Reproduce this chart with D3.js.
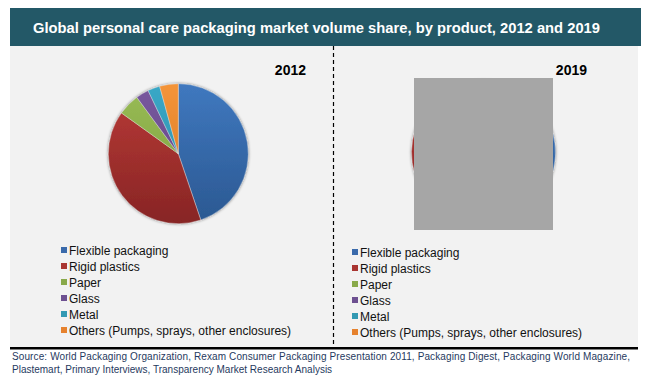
<!DOCTYPE html>
<html>
<head>
<meta charset="utf-8">
<script src="https://cdn.jsdelivr.net/npm/d3@7"></script>
<style>
  body { margin: 0; background: #fff; }
  text { font-family: "Liberation Sans", Arial, sans-serif; }
</style>
</head>
<body>
<div id="viz"></div>
<script>
// data
var categories = ['Flexible packaging', 'Rigid plastics', 'Paper', 'Glass', 'Metal',
    'Others (Pumps, sprays, other enclosures)'];
var share2012 = [44.8, 40.1, 5.0, 3.0, 2.8, 4.3];
var share2019 = [46.0, 39.0, 5.0, 3.0, 3.0, 4.0];
var years = ['2012', '2019'];
var titleText = 'Global personal care packaging market volume share, by product, 2012 and 2019';
var sourceLines = [
    'Source: World Packaging Organization, Rexam Consumer Packaging Presentation 2011, Packaging Digest, Packaging World Magazine,',
    'Plastemart, Primary Interviews, Transparency Market Research Analysis'
];

var width = 649;
var height = 389;

var topColors = ['#4079c0', '#bb3b37', '#9abd56', '#7a5aa0', '#3aa9c8', '#f5953a'];
var bottomColors = ['#2a5790', '#862424', '#789a3c', '#5a3f7e', '#2a87a2', '#d0741f'];
var legendColors = ['#3a6aab', '#a93532', '#89a94a', '#6d5091', '#3399b3', '#e6822e'];

var svg = d3.select('#viz').append('svg')
    .attr('width', width)
    .attr('height', height);

var defs = svg.append('defs');

topColors.forEach(function (c, i) {
    var g = defs.append('linearGradient')
        .attr('id', 'grad' + i)
        .attr('gradientUnits', 'userSpaceOnUse')
        .attr('x1', 0).attr('y1', -73)
        .attr('x2', 0).attr('y2', 73);
    g.append('stop').attr('offset', '0%').attr('stop-color', c);
    g.append('stop').attr('offset', '100%').attr('stop-color', bottomColors[i]);
});

var blur = defs.append('filter').attr('id', 'shadow')
    .attr('x', '-20%').attr('y', '-20%').attr('width', '140%').attr('height', '140%');
blur.append('feGaussianBlur').attr('in', 'SourceAlpha').attr('stdDeviation', 1.5).attr('result', 'b');
blur.append('feComponentTransfer').attr('in', 'b').attr('result', 's')
    .append('feFuncA').attr('type', 'linear').attr('slope', 0.5);
var merge = blur.append('feMerge');
merge.append('feMergeNode').attr('in', 's');
merge.append('feMergeNode').attr('in', 'SourceGraphic');

// panel background
svg.append('rect')
    .attr('x', 10).attr('y', 46)
    .attr('width', 628).attr('height', 302)
    .attr('fill', '#f2f2f2');

// header
svg.append('rect')
    .attr('x', 10).attr('y', 8)
    .attr('width', 631).attr('height', 38)
    .attr('fill', '#235867');

svg.append('text')
    .attr('x', 33).attr('y', 33)
    .attr('fill', '#fff')
    .attr('font-size', 15)
    .attr('font-weight', 'bold')
    .attr('textLength', 567)
    .attr('lengthAdjust', 'spacingAndGlyphs')
    .text(titleText);

// divider
svg.append('line')
    .attr('x1', 333.5).attr('x2', 333.5)
    .attr('y1', 46).attr('y2', 348)
    .attr('stroke', '#000')
    .attr('stroke-width', 1.2)
    .attr('stroke-dasharray', '4,3');

// bottom rule
svg.append('rect')
    .attr('x', 10).attr('y', 347)
    .attr('width', 628).attr('height', 2.5)
    .attr('fill', '#000');

var pie = d3.pie().sort(null).value(function (d) { return d; });

var panels = [
    { year: years[0], values: share2012, cx: 178.3, cy: 153.7, r: 70, yearX: 306, legX: 61, legY: 250 },
    { year: years[1], values: share2019, cx: 483.5, cy: 152.5, r: 72, yearX: 587, legX: 352, legY: 252 }
];

panels.forEach(function (p) {
    var arc = d3.arc().innerRadius(0).outerRadius(p.r);

    var g = svg.append('g')
        .attr('transform', 'translate(' + p.cx + ',' + p.cy + ')')
        .attr('filter', 'url(#shadow)');

    g.selectAll('path')
        .data(pie(p.values))
        .enter().append('path')
        .attr('d', arc)
        .attr('fill', function (d, i) { return 'url(#grad' + i + ')'; })
        .attr('stroke', '#e8e8e8')
        .attr('stroke-width', 0.4);

    svg.append('text')
        .attr('x', p.yearX).attr('y', 75)
        .attr('text-anchor', 'end')
        .attr('font-size', 14)
        .attr('font-weight', 'bold')
        .attr('fill', '#000')
        .text(p.year);

    var leg = svg.append('g')
        .attr('transform', 'translate(' + p.legX + ',' + p.legY + ')');

    var item = leg.selectAll('g')
        .data(categories)
        .enter().append('g')
        .attr('transform', function (d, i) { return 'translate(0,' + (i * 16) + ')'; });

    item.append('rect')
        .attr('x', 0).attr('y', -3)
        .attr('width', 6).attr('height', 6)
        .attr('fill', function (d, i) { return legendColors[i]; });

    item.append('text')
        .attr('x', 8).attr('y', 4.5)
        .attr('font-size', 12)
        .attr('fill', '#111')
        .text(function (d) { return d; });
});

// grey block covering the 2019 pie
svg.append('rect')
    .attr('x', 414).attr('y', 78)
    .attr('width', 139).attr('height', 152)
    .attr('fill', '#a6a6a6');

// source
svg.selectAll('.src')
    .data(sourceLines)
    .enter().append('text')
    .attr('class', 'src')
    .attr('x', 12)
    .attr('y', function (d, i) { return 360 + i * 13; })
    .attr('font-size', 10)
    .attr('fill', '#1f3a60')
    .attr('textLength', function (d, i) { return i === 0 ? 618 : null; })
    .attr('lengthAdjust', 'spacing')
    .text(function (d) { return d; });
</script>
</body>
</html>
